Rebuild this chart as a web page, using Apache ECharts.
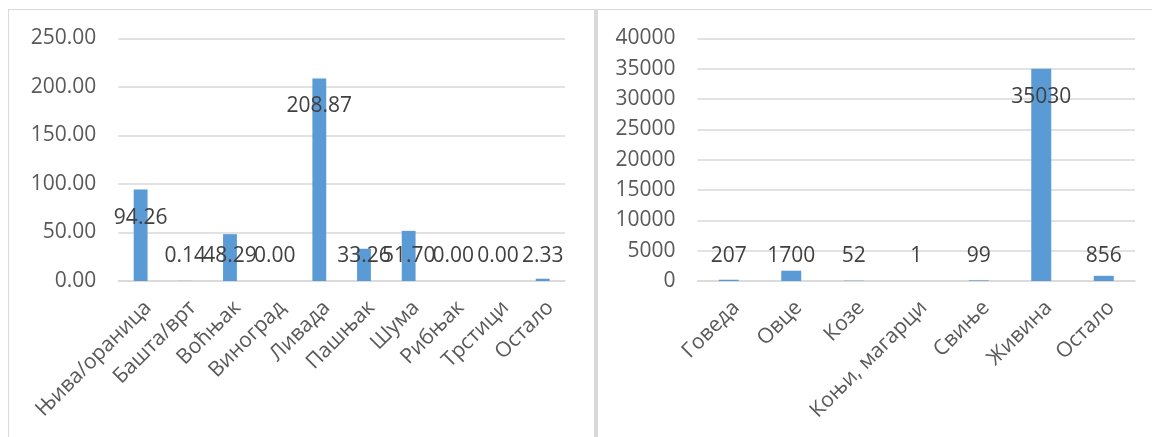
<!DOCTYPE html>
<html>
<head>
<meta charset="utf-8">
<script src="https://cdn.jsdelivr.net/npm/echarts@6/dist/echarts.min.js"></script>
<style>
  html, body { margin: 0; padding: 0; background: #ffffff; }
  #chart { width: 1152px; height: 437px; }
</style>
</head>
<body>
<div id="chart"></div>
<script>
// ---- Data ----
const landCategories = ['Њива/ораница', 'Башта/врт', 'Воћњак', 'Виноград', 'Ливада', 'Пашњак', 'Шума', 'Рибњак', 'Трстици', 'Остало'];
const landValues = [94.26, 0.14, 48.29, 0.00, 208.87, 33.26, 51.70, 0.00, 0.00, 2.33];
const landAxisMax = 250;
const landAxisStep = 50;

const stockCategories = ['Говеда', 'Овце', 'Козе', 'Коњи, магарци', 'Свиње', 'Живина', 'Остало'];
const stockValues = [207, 1700, 52, 1, 99, 35030, 856];
const stockAxisMax = 40000;
const stockAxisStep = 5000;

// ---- Styles ----
const FONT = '"Open Sans", "DejaVu Sans", sans-serif';
const BAR = '#5b9bd5';
const GRID = '#d9d9d9';
const AXIS_TXT = '#595959';
const LABEL_TXT = '#404040';

const chart = echarts.init(document.getElementById('chart'), null, { renderer: 'canvas' });

function xAxisCfg(cats, gi) {
  return {
    type: 'category', gridIndex: gi, data: cats,
    axisLine: { show: true, lineStyle: { color: GRID, width: 1.5 } },
    axisTick: { show: false },
    axisLabel: {
      interval: 0, rotate: 45, margin: 16, verticalAlign: 'top',
      color: AXIS_TXT, fontSize: 21, fontFamily: FONT
    },
    splitLine: { show: false }
  };
}
function yAxisCfg(max, step, gi, fmt) {
  return {
    type: 'value', gridIndex: gi, min: 0, max: max, interval: step,
    axisLine: { show: false }, axisTick: { show: false },
    axisLabel: { margin: 22, color: AXIS_TXT, fontSize: 21, fontFamily: FONT, formatter: fmt },
    splitLine: { lineStyle: { color: GRID, width: 1.5 } }
  };
}
function seriesCfg(vals, gi, fmt, width) {
  return {
    type: 'bar', xAxisIndex: gi, yAxisIndex: gi, data: vals.slice(),
    barWidth: width,
    itemStyle: { color: BAR },
    label: {
      show: true, position: ['50%', 28], align: 'center', verticalAlign: 'middle',
      color: LABEL_TXT, fontSize: 21, fontFamily: FONT, formatter: fmt
    },
    emphasis: { disabled: true },
    animation: false
  };
}

const fmtLand = v => Number(v).toFixed(2);
const fmtStock = v => String(Math.round(Number(v)));

const option = {
  animation: false,
  textStyle: { fontFamily: FONT },
  grid: [
    { left: 118.3, right: 1152 - 565, top: 38.5, bottom: 437 - 281, containLabel: false },
    { left: 697.5, right: 1152 - 1135, top: 38.5, bottom: 437 - 281, containLabel: false }
  ],
  xAxis: [xAxisCfg(landCategories, 0), xAxisCfg(stockCategories, 1)],
  yAxis: [
    yAxisCfg(landAxisMax, landAxisStep, 0, v => v.toFixed(2)),
    yAxisCfg(stockAxisMax, stockAxisStep, 1, v => String(v))
  ],
  series: [
    seriesCfg(landValues, 0, p => fmtLand(p.value), '31%'),
    seriesCfg(stockValues, 1, p => fmtStock(p.value), '32%')
  ],
  graphic: [
    { type: 'rect', silent: true, shape: { x: 8, y: 9, width: 1144, height: 1 }, style: { fill: GRID } },
    { type: 'rect', silent: true, shape: { x: 8, y: 9, width: 1, height: 428 }, style: { fill: GRID } },
    { type: 'rect', silent: true, shape: { x: 594, y: 9, width: 4, height: 428 }, style: { fill: GRID } }
  ]
};
chart.setOption(option);

// Place labels like the original: 28px below the bar top, but never lower than ~24px above the axis.
function labelled(vals, gi) {
  return vals.map((v, i) => {
    const y0 = chart.convertToPixel({ xAxisIndex: gi, yAxisIndex: gi }, [i, 0])[1];
    const y1 = chart.convertToPixel({ xAxisIndex: gi, yAxisIndex: gi }, [i, v])[1];
    const h = y0 - y1;
    const off = Math.min(28, h - 24.5);
    return { value: v, label: { position: ['50%', off] } };
  });
}
chart.setOption({
  series: [
    { data: labelled(landValues, 0) },
    { data: labelled(stockValues, 1) }
  ]
});
</script>
</body>
</html>
